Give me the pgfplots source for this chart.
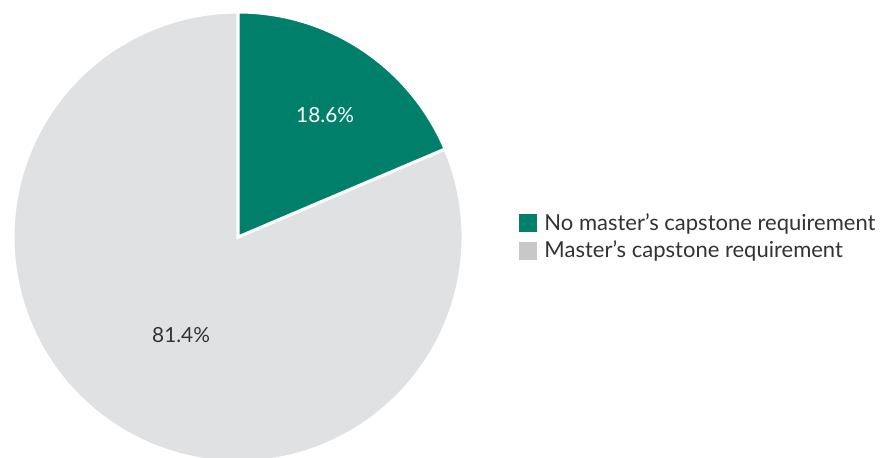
\documentclass[border=0pt]{standalone}
\usepackage{pgfplots}
\pgfplotsset{compat=1.18}
\usepackage{fontspec}
\setmainfont{Lato}
\definecolor{pgreen}{HTML}{00806A}
\definecolor{pgray}{HTML}{E0E1E3}
\definecolor{lgray}{HTML}{C8C8C8}
\definecolor{tdark}{HTML}{333333}
% data: share in percent
\def\valA{18.6} % No master's capstone requirement
\def\valB{81.4} % Master's capstone requirement
\pgfmathsetmacro\aStart{90-\valA*3.6}
\pgfmathsetmacro\aEnd{90}
\pgfmathsetmacro\bStart{90}
\pgfmathsetmacro\bEnd{90+\valB*3.6}
\begin{document}
\begin{tikzpicture}
\begin{axis}[
  scale only axis, width=441pt, height=229pt,
  xmin=-1.0578, xmax=2.862, ymin=-0.982, ymax=1.0533,
  hide axis, clip=true,
  legend style={at={(axis cs:1.249,0.0)}, anchor=west, draw=none, fill=none,
    font=\fontsize{11}{12.5}\selectfont, text=tdark, row sep=0pt,
    inner sep=0pt, cells={anchor=west}},
  legend cell align=left,
  legend image code/.code={\fill[#1,draw=none] (0pt,-4.5pt) rectangle (9pt,4.5pt);
    \path[draw=none,fill=none] (0pt,0pt) rectangle (10.5pt,0.1pt);},
]
\addplot[fill=pgray, draw=white, line width=1.5pt, line join=miter, domain=\bStart:\bEnd, samples=200, forget plot]
  ({cos(x)},{sin(x)}) -- (axis cs:0,0) -- cycle;
\addplot[fill=pgreen, draw=white, line width=1.5pt, line join=miter, domain=\aStart:\aEnd, samples=80, forget plot]
  ({cos(x)},{sin(x)}) -- (axis cs:0,0) -- cycle;
\addlegendimage{fill=pgreen}
\addlegendentry{No master’s capstone requirement}
\addlegendimage{fill=lgray}
\addlegendentry{Master’s capstone requirement}
\node[font=\fontsize{10.4}{12}\selectfont, text=white] at (axis cs:0.387,0.542) {18.6\%};
\node[font=\fontsize{10.4}{12}\selectfont, text=tdark] at (axis cs:-0.253,-0.436) {81.4\%};
\end{axis}
\path (current axis.south west) rectangle (current axis.north east);
\end{tikzpicture}
\end{document}
